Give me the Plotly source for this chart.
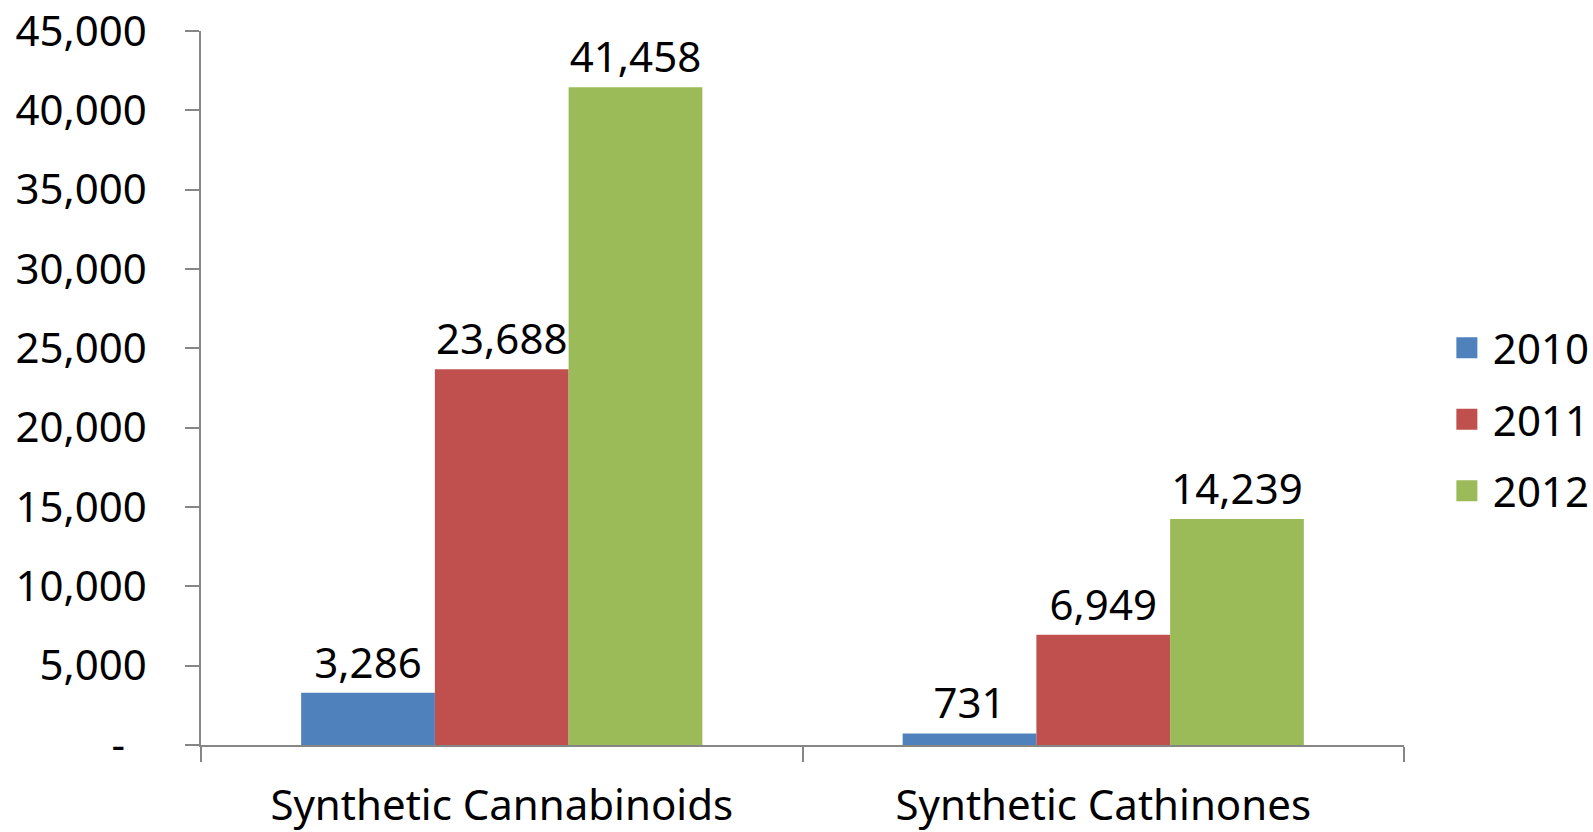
import plotly.graph_objects as go

categories = ["Synthetic Cannabinoids", "Synthetic Cathinones"]
years = ["2010", "2011", "2012"]
values_2010 = [3286, 731]
values_2011 = [23688, 6949]
values_2012 = [41458, 14239]
colors = ["#4F81BD", "#C0504D", "#9BBB59"]
tick_vals = [0, 5000, 10000, 15000, 20000, 25000, 30000, 35000, 40000, 45000]
tick_text = ["-\u00a0\u00a0", "5,000", "10,000", "15,000", "20,000", "25,000",
             "30,000", "35,000", "40,000", "45,000"]

FONT = "Noto Sans"
FS = 42

fig = go.Figure()
series = [values_2010, values_2011, values_2012]
for name, vals, col in zip(years, series, colors):
    fig.add_trace(go.Bar(
        x=categories, y=vals, name=name, marker=dict(color=col, line=dict(width=0)),
        text=[f"{v:,}" for v in vals],
        texttemplate="%{text}",
        textposition="outside", cliponaxis=False,
        textfont=dict(family=FONT, size=FS, color="black"),
        showlegend=False,
    ))
for name, col in zip(years, colors):
    fig.add_trace(go.Scatter(
        x=[None], y=[None], mode="markers", name=name,
        marker=dict(symbol="square", size=16, color=col, line=dict(color=col, width=5)),
        legendgroup=name, showlegend=True,
    ))

fig.update_layout(
    width=1593, height=832,
    margin=dict(l=201, r=189, t=31, b=87),
    paper_bgcolor="white", plot_bgcolor="white",
    barmode="group", bargap=0.333, bargroupgap=0,
    font=dict(family=FONT, size=FS, color="black"),
    legend=dict(x=0.9045, y=0.496, xref="container", yref="container",
                xanchor="left", yanchor="middle",
                font=dict(family=FONT, size=FS, color="black"),
                traceorder="grouped", tracegroupgap=14, itemwidth=42,
                bgcolor="rgba(0,0,0,0)"),
)
fig.update_yaxes(
    range=[0, 45000], tickvals=tick_vals, ticktext=tick_text, automargin=False,
    showgrid=False, zeroline=False, showline=True, linecolor="#868686", linewidth=1.5,
    ticks="outside", ticklen=14, tickcolor="#868686", tickwidth=1.5,
    ticklabelstandoff=30,
    tickfont=dict(family=FONT, size=FS, color="black"),
)
fig.update_xaxes(
    showgrid=False, showline=True, linecolor="#868686", linewidth=1.5, automargin=False,
    ticks="outside", ticklen=15, tickcolor="#868686", tickwidth=1.5,
    tickson="boundaries", ticklabelstandoff=23,
    tickfont=dict(family=FONT, size=FS, color="black"),
)

fig.write_html("out.html")
